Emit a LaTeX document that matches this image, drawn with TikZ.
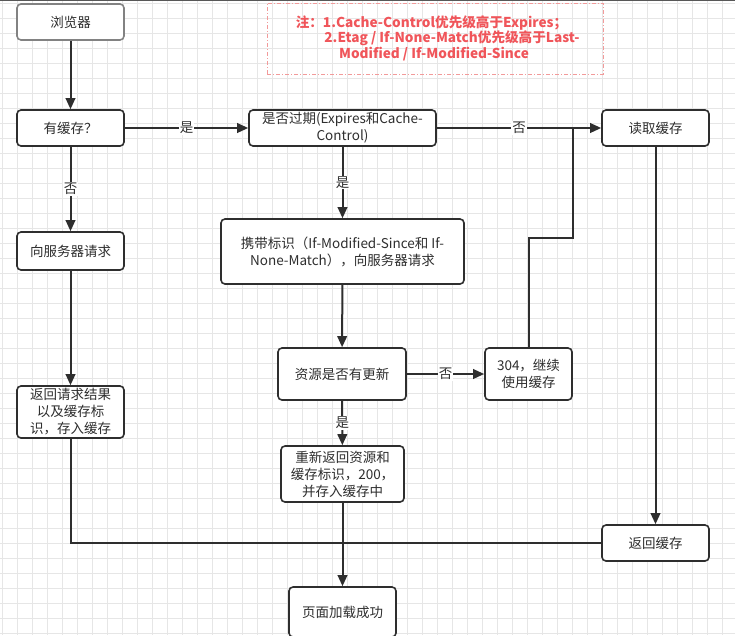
\documentclass[tikz,border=0pt]{standalone}
\usepackage{fontspec}
\newfontfamily\cjk{Noto Sans CJK SC}
\usetikzlibrary{arrows.meta}
\definecolor{lc}{HTML}{2E2E2E}
\definecolor{gridc}{HTML}{E6E6E6}
\definecolor{notered}{HTML}{F0555A}
\definecolor{notedash}{HTML}{F29A9A}
\tikzset{
  box/.style={draw=lc, line width=1.6pt, rounded corners=4pt, fill=white, align=center,
    text=lc, font=\cjk\fontsize{13.5}{17}\selectfont, inner sep=0pt},
  conn/.style={draw=lc, line width=2pt},
  arr/.style={conn, -{Triangle[length=11pt,width=9.5pt]}},
  lbl/.style={fill=white, text=lc, font=\cjk\fontsize{13.5}{15}\selectfont, inner sep=1pt},
  notetxt/.style={text=notered, font=\cjk\bfseries\fontsize{13.6}{16}\selectfont, inner sep=0pt}
}
\begin{document}
\begin{tikzpicture}[x=1pt,y=-1pt]
\useasboundingbox (0,0) rectangle (735,635);
\clip (0,0) rectangle (735,635);
\fill[white] (0,0) rectangle (735,635);
\foreach \x in {2,17,...,737} \draw[gridc, line width=0.6pt] (\x,0) -- (\x,635);
\foreach \y in {3,18,...,638} \draw[gridc, line width=0.6pt] (0,\y) -- (735,\y);
\draw[lc!80, line width=1pt] (0,0.5) -- (735,0.5);

% note
\node[draw=notedash, line width=1pt, dash pattern=on 4pt off 2pt on 1pt off 2pt,
      minimum width=336pt, minimum height=71pt, inner sep=0pt] (note) at (435,38.5) {};
\node[notetxt] (n1) at (431.5,23) {注：1.Cache-Control优先级高于Expires；};
\node[notetxt] (n2) at (452,38.5) {2.Etag / If-None-Match优先级高于Last-};
\node[notetxt] (n3) at (434,54) {Modified / If-Modified-Since};

% nodes
\node[box, draw=lc!60, minimum width=107pt, minimum height=36pt] (browser) at (70.5,22) {浏览器};
\node[box, minimum width=107pt, minimum height=36pt] (hascache) at (70.5,128) {有缓存？};
\node[box, minimum width=187pt, minimum height=36pt] (expired) at (342.5,128) {是否过期(Expires和Cache-\\Control)};
\node[box, minimum width=107pt, minimum height=36pt] (readcache) at (655.5,128) {读取缓存};
\node[box, minimum width=107pt, minimum height=38pt] (request) at (70.5,251) {向服务器请求};
\node[box, minimum width=243pt, minimum height=65pt] (carry) at (342.5,251.5) {携带标识（If-Modified-Since和 If-\\None-Match），向服务器请求};
\node[box, minimum width=128pt, minimum height=52pt] (updated) at (342,374) {资源是否有更新};
\node[box, minimum width=87pt, minimum height=52pt] (n304) at (528.5,374) {304，继续\\使用缓存};
\node[box, minimum width=107pt, minimum height=52pt] (returnreq) at (70.5,412) {返回请求结果\\以及缓存标\\识，存入缓存};
\node[box, minimum width=123pt, minimum height=56pt] (resend) at (342.5,474) {重新返回资源和\\缓存标识，200，\\并存入缓存中};
\node[box, minimum width=107pt, minimum height=36pt] (returncache) at (655.5,543) {返回缓存};
\node[box, minimum width=107pt, minimum height=50pt] (loaded) at (342.5,612) {页面加载成功};

% connectors
\draw[arr] (browser) -- (hascache);
\draw[arr] (hascache) -- node[lbl] {是} (expired);
\draw[arr] (hascache) -- node[lbl] {否} (request);
\draw[arr] (request) -- (returnreq);
\draw[arr] (expired) -- node[lbl] {否} (readcache);
\draw[arr] (expired) -- node[lbl] {是} (carry);
\draw[arr] (carry) -- (updated);
\draw[arr] (updated) -- node[lbl] {否} (n304);
\draw[arr] (updated) -- node[lbl] {是} (resend);
\coordinate (bend) at (573,238);
\draw[conn] (n304.north) |- (bend) -- (bend |- readcache.west);
\draw[arr] (readcache) -- (returncache);
\coordinate (join) at (342.5,543);
\draw[conn] (returnreq.south) |- (join);
\draw[conn] (returncache.west) -- (join);
\draw[arr] (resend) -- (loaded);
\end{tikzpicture}
\end{document}
